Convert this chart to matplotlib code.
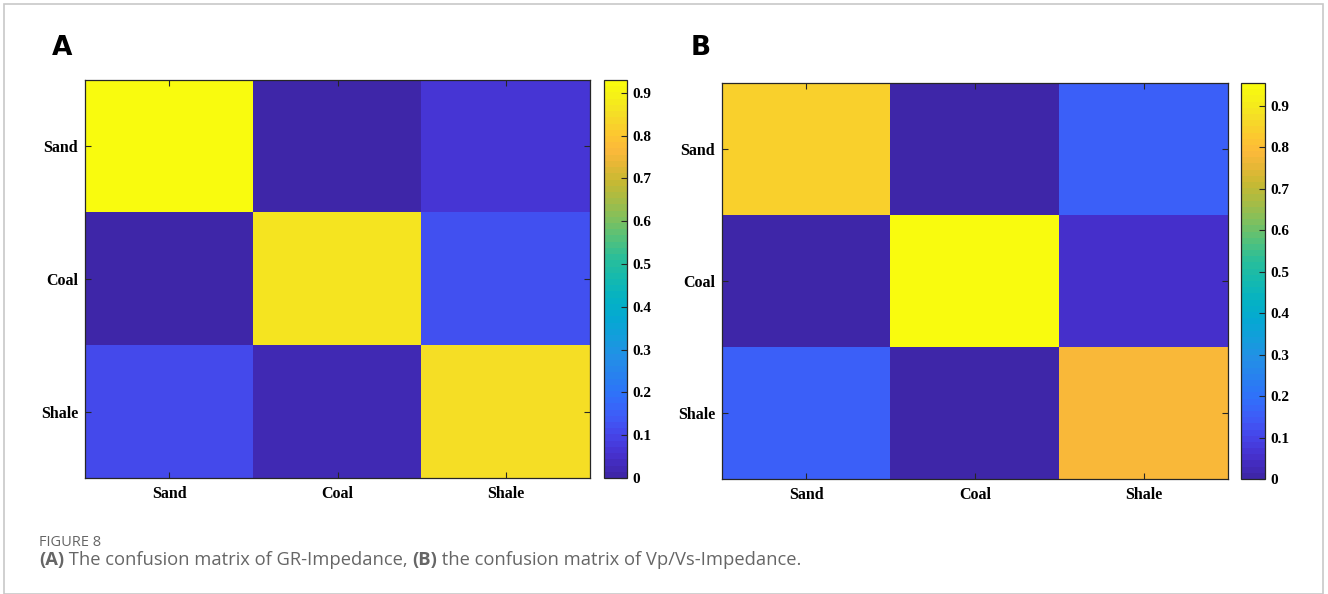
import numpy as np
import matplotlib
matplotlib.use("Agg")
import matplotlib.pyplot as plt
from matplotlib.colors import LinearSegmentedColormap
from matplotlib.patches import Rectangle

# Lithology classes and confusion matrices (rows = true, cols = predicted)
classes = ["Sand", "Coal", "Shale"]
cm_gr = [[0.93, 0.00, 0.07],
         [0.01, 0.86, 0.13],
         [0.115, 0.025, 0.85]]
cm_vpvs = [[0.84, 0.00, 0.15],
           [0.00, 0.955, 0.045],
           [0.16, 0.01, 0.78]]
cbar_ticks = [0, 0.1, 0.2, 0.3, 0.4, 0.5, 0.6, 0.7, 0.8, 0.9]

# parula-like colormap, 64 discrete levels
anchors = [
    (0.00, (62, 38, 168)), (0.05, (70, 48, 205)), (0.10, (70, 68, 232)),
    (0.15, (62, 92, 248)), (0.20, (48, 112, 250)), (0.25, (40, 128, 240)),
    (0.30, (35, 143, 230)), (0.35, (20, 157, 220)), (0.40, (5, 168, 210)),
    (0.45, (5, 178, 195)), (0.50, (20, 185, 175)), (0.55, (40, 190, 155)),
    (0.60, (80, 193, 125)), (0.65, (125, 192, 95)), (0.70, (165, 188, 70)),
    (0.75, (200, 185, 50)), (0.80, (235, 183, 55)), (0.83, (252, 185, 58)),
    (0.87, (252, 200, 48)), (0.92, (245, 222, 38)), (0.96, (245, 238, 25)),
    (1.00, (249, 251, 14)),
]
parula = LinearSegmentedColormap.from_list(
    "parula", [(p, tuple(c / 255 for c in rgb)) for p, rgb in anchors], N=64)

W, H = 1328, 594
fig = plt.figure(figsize=(W / 100, H / 100), dpi=100)

def px(x0, y0, x1, y1):
    return [x0 / W, 1 - y1 / H, (x1 - x0) / W, (y1 - y0) / H]

# light frame round the whole figure
fig.patches.append(Rectangle((4 / W, 0), (W - 9) / W, (H - 4) / H,
                             transform=fig.transFigure, fill=False,
                             edgecolor="#c8c8c8", linewidth=1.2))

tick_font = dict(family="Liberation Serif", weight="bold", size=11.5)
spine_col = "#262626"

panels = [
    ("A", cm_gr, px(85, 80, 590, 478), px(604, 80, 627, 478), 62),
    ("B", cm_vpvs, px(722, 83, 1228, 479), px(1241, 83, 1265, 479), 701),
]

for letter, mat, ax_rect, cb_rect, lx in panels:
    data = np.array(mat)
    ax = fig.add_axes(ax_rect)
    im = ax.imshow(data, cmap=parula, vmin=0, vmax=data.max(),
                   aspect="auto", interpolation="nearest")
    ax.set_xticks(range(3))
    ax.set_yticks(range(3))
    ax.set_xticklabels(classes, fontdict=tick_font)
    ax.set_yticklabels(classes, fontdict=tick_font)
    ax.tick_params(direction="in", length=4, width=0.8, color=spine_col,
                   top=True, right=True)
    ax.tick_params(axis="x", pad=6)
    ax.tick_params(axis="y", pad=5)
    for s in ax.spines.values():
        s.set_color(spine_col)
        s.set_linewidth(0.9)

    cax = fig.add_axes(cb_rect)
    cb = fig.colorbar(im, cax=cax, ticks=cbar_ticks)
    cb.ax.set_yticklabels([f"{t:g}" for t in cbar_ticks],
                          fontdict=dict(tick_font, size=11))
    cb.ax.tick_params(direction="in", length=4, width=0.8, color=spine_col, pad=4)
    cb.outline.set_edgecolor(spine_col)
    cb.outline.set_linewidth(0.9)

    fig.text(lx / W, 1 - 48 / H, letter, ha="center", va="center",
             fontsize=19, fontweight="bold", family="DejaVu Sans")

# caption
cap_col = "#666666"
fig.text(39 / W, 1 - 546 / H, "FIGURE 8", fontsize=10.5, color=cap_col,
         family="Open Sans", va="baseline")

parts = [("(A)", "bold"), (" The confusion matrix of GR-Impedance, ", "normal"),
         ("(B)", "bold"), (" the confusion matrix of Vp/Vs-Impedance.", "normal")]
renderer = fig.canvas.get_renderer()
x = 39
for txt, wt in parts:
    t = fig.text(x / W, 1 - 565 / H, txt, fontsize=13.2, color=cap_col,
                 family="Open Sans", weight=wt, va="baseline")
    x += t.get_window_extent(renderer).width

fig.savefig("out.png", dpi=100)
